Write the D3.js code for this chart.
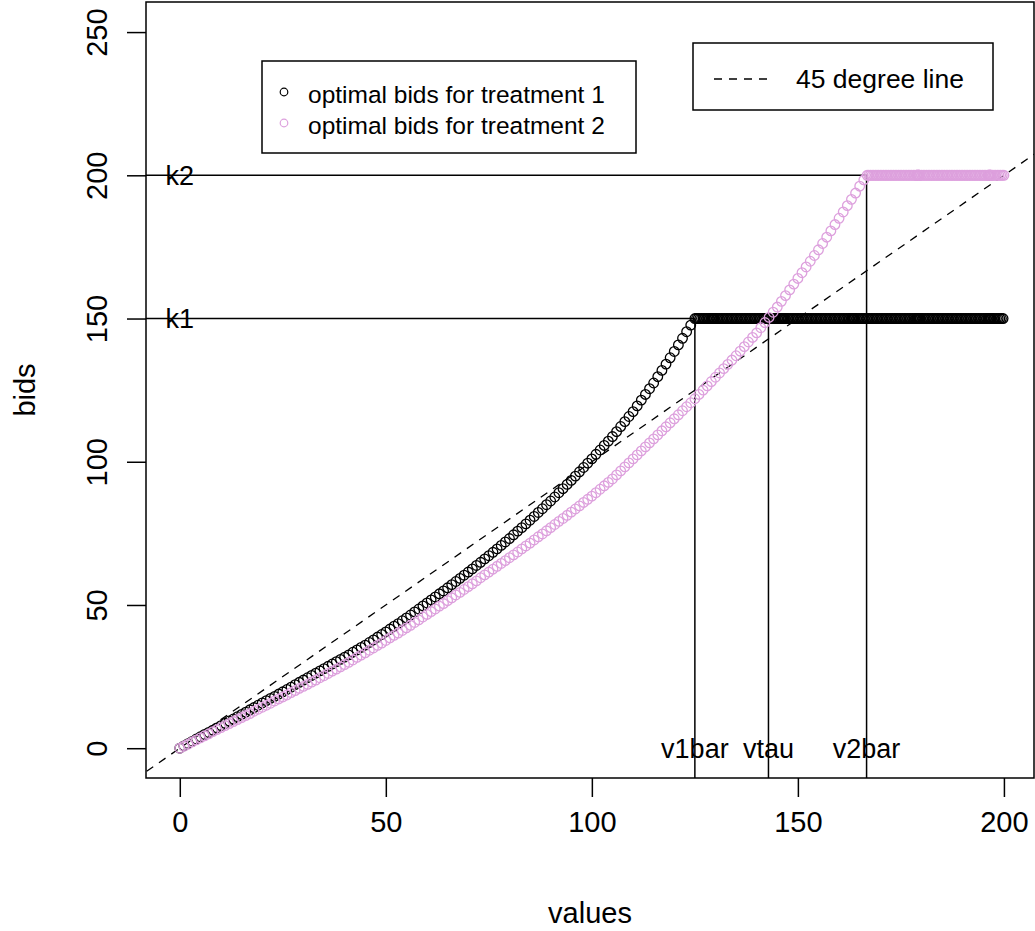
<!DOCTYPE html>
<html><head><meta charset="utf-8">
<script src="https://cdn.jsdelivr.net/npm/d3@7"></script>
<style>body{margin:0;background:#fff}svg{display:block}text{font-family:"Liberation Sans",Arial,sans-serif;fill:#000}</style>
</head><body><svg id="c" width="1035" height="931"></svg>
<script>
// ---- data ----
// treatment 1: rising part (values 0..124) and capped part at k1
const values1 = d3.range(0, 125, 1);
const bids1 = [
0,0.8,1.6,2.4,3.2,4.0,4.8,5.5,6.3,7.1,7.9,8.7,9.5,10.2,11.0,11.8,12.6,13.4,14.2,15.0,15.8,
16.6,17.4,18.1,18.9,19.7,20.5,21.3,22.2,23.0,23.8,24.6,25.4,26.2,27.0,27.8,28.6,29.4,30.2,31.0,31.8,
32.6,33.5,34.3,35.2,36.0,36.9,37.8,38.8,39.7,40.6,41.6,42.6,43.5,44.5,45.5,46.5,47.6,48.6,49.7,50.7,
51.8,52.8,53.9,54.9,56.0,57.1,58.2,59.3,60.4,61.5,62.6,63.8,64.9,66.1,67.2,68.4,69.6,70.8,72.0,73.2,
74.5,75.8,77.0,78.3,79.6,80.9,82.3,83.6,85.0,86.3,87.7,89.2,90.6,92.1,93.5,95.0,96.5,98.0,99.5,101.0,
102.6,104.1,105.7,107.2,108.8,110.5,112.3,114.0,115.8,117.5,119.5,121.5,123.5,125.5,127.5,129.7,131.9,134.1,136.3,138.5,
140.8,143.1,145.4,147.7];
const cappedValues1 = d3.range(125, 200.01, 0.4).concat(
  [129.0,129.1,129.2,129.3,129.4,129.5,129.6,129.7,
   146.0,146.1,146.2,146.3,146.4,146.5,146.6,146.7,
   163.0,163.1,163.2,163.3,163.4,163.5,163.6,163.7,
   178.8,178.9,179.0,179.1,179.2,179.3,179.4,179.5,
   196.2,196.3,196.4,196.5,196.6,196.7,196.8,196.9]);
// treatment 2: rising part (values 0..166) and capped part at k2
const values2 = d3.range(0, 167, 1);
const bids2 = [
0,0.7,1.4,2.2,2.9,3.6,4.3,5.0,5.8,6.5,7.2,7.9,8.6,9.3,10.0,10.7,11.4,12.1,12.9,13.6,14.3,
15.0,15.7,16.5,17.2,17.9,18.6,19.4,20.1,20.9,21.6,22.3,23.1,23.8,24.6,25.3,26.1,26.9,27.6,28.4,29.2,
30.0,30.8,31.7,32.5,33.3,34.2,35.0,35.9,36.7,37.6,38.5,39.4,40.2,41.1,42.0,42.9,43.9,44.8,45.8,46.7,
47.7,48.6,49.6,50.5,51.5,52.5,53.5,54.4,55.4,56.4,57.4,58.4,59.5,60.5,61.5,62.5,63.5,64.5,65.5,66.5,
67.5,68.5,69.6,70.6,71.6,72.7,73.8,74.8,75.9,77.0,78.1,79.2,80.2,81.3,82.4,83.5,84.6,85.8,86.9,88.0,
89.2,90.4,91.6,92.8,94.0,95.4,96.8,98.2,99.6,101.0,102.4,103.8,105.2,106.6,108.0,109.4,110.8,112.2,113.6,115.0,
116.4,117.8,119.2,120.6,122.0,123.5,125.0,126.5,128.0,129.5,131.0,132.5,134.0,135.5,137.0,138.6,140.2,141.8,143.4,145.0,
146.8,148.6,150.4,152.2,154.0,156.0,158.0,160.0,162.0,164.0,166.0,168.0,170.0,172.0,174.0,176.2,178.4,180.6,182.8,185.0,
187.2,189.4,191.6,193.8,196.2,198.4];
const cappedValues2 = d3.range(166.8, 200.01, 0.4).concat(
  [178.8,178.9,179.0,179.1,179.2,179.3,179.4,179.5,
   196.2,196.3,196.4,196.5,196.6,196.7,196.8,196.9]);
const xTicks = [0, 50, 100, 150, 200];
const yTicks = [0, 50, 100, 150, 200, 250];
const kLevels = [150, 200];
const kLabels = ["k1", "k2"];
const vMarks = [125, 142.86, 166.67];
const vLabels = ["v1bar", "vtau", "v2bar"];
const vTops = [150, 150, 200];
const legendLabels = ["optimal bids for treatment 1", "optimal bids for treatment 2"];
const colors = ["#000000", "#DDA0DD"];

// ---- layout ----
const svg = d3.select("#c");
const box = {l: 146, r: 1034, t: 2, b: 778};
const x = d3.scaleLinear().domain([-8.2, 207.3]).range([box.l, box.r]);
const y = d3.scaleLinear().domain([-10.4, 260.5]).range([box.b, box.t]);

svg.append("defs").append("clipPath").attr("id", "clip")
  .append("rect").attr("x", box.l).attr("y", box.t).attr("width", box.r - box.l).attr("height", box.b - box.t);

// axes
const xAxis = svg.append("g").attr("transform", `translate(0,${box.b})`)
  .call(d3.axisBottom(x).tickValues(xTicks).tickSize(19).tickPadding(14).tickSizeOuter(0));
const yAxis = svg.append("g").attr("transform", `translate(${box.l},0)`)
  .call(d3.axisLeft(y).tickValues(yTicks).tickSize(19).tickSizeOuter(0));
[xAxis, yAxis].forEach(g => {
  g.select(".domain").remove();
  g.selectAll(".tick line").attr("stroke", "#000").attr("stroke-width", 1.5);
});
xAxis.selectAll(".tick text").attr("font-size", 29).attr("fill", "#000")
  .attr("font-family", "Liberation Sans, Arial, sans-serif");
yAxis.selectAll(".tick text").remove();
yAxis.selectAll(".tick").append("text")
  .attr("transform", "translate(-39,0) rotate(-90)")
  .attr("text-anchor", "middle").attr("font-size", 29).attr("fill", "#000")
  .text(d => d);

// axis titles
svg.append("text").attr("x", (box.l + box.r) / 2).attr("y", 923).attr("text-anchor", "middle")
  .attr("font-size", 29).text("values");
svg.append("text").attr("transform", `translate(35,${(box.t + box.b) / 2}) rotate(-90)`)
  .attr("text-anchor", "middle").attr("font-size", 29).text("bids");

const plot = svg.append("g").attr("clip-path", "url(#clip)");

// reference lines
kLevels.forEach((k, i) => {
  plot.append("line").attr("x1", box.l).attr("x2", x(vMarks[i === 0 ? 0 : 2])).attr("y1", y(k)).attr("y2", y(k))
    .attr("stroke", "#000").attr("stroke-width", 1.5);
});
vMarks.forEach((v, i) => {
  plot.append("line").attr("x1", x(v)).attr("x2", x(v)).attr("y1", y(vTops[i])).attr("y2", box.b)
    .attr("stroke", "#000").attr("stroke-width", 1.5);
});
// 45 degree line
plot.append("line").attr("x1", x(-20)).attr("y1", y(-20)).attr("x2", x(270)).attr("y2", y(270))
  .attr("stroke", "#000").attr("stroke-width", 1.3).attr("stroke-dasharray", "8,7");

// points
const series = [
  {pts: values1.map((v, i) => [v, bids1[i]]).concat(cappedValues1.map(v => [v, kLevels[0]])), c: colors[0]},
  {pts: values2.map((v, i) => [v, bids2[i]]).concat(cappedValues2.map(v => [v, kLevels[1]])), c: colors[1]}
];
series.forEach(s => {
  plot.append("g").selectAll("circle").data(s.pts).join("circle")
    .attr("cx", d => x(d[0])).attr("cy", d => y(d[1])).attr("r", 4.8)
    .attr("fill", "none").attr("stroke", s.c).attr("stroke-width", 1.3);
});

// text labels
kLabels.forEach((t, i) => {
  svg.append("text").attr("x", x(0)).attr("y", y(kLevels[i])).attr("dy", "0.35em")
    .attr("text-anchor", "middle").attr("font-size", 27).text(t);
});
vLabels.forEach((t, i) => {
  svg.append("text").attr("x", x(vMarks[i])).attr("y", y(0)).attr("dy", "0.35em")
    .attr("text-anchor", "middle").attr("font-size", 27).text(t);
});

// legend 1
const lg1 = svg.append("g");
lg1.append("rect").attr("x", 262).attr("y", 61).attr("width", 374).attr("height", 92)
  .attr("fill", "#fff").attr("stroke", "#000").attr("stroke-width", 1.5);
legendLabels.forEach((t, i) => {
  lg1.append("circle").attr("cx", 284).attr("cy", 92 + i * 31).attr("r", 3.8)
    .attr("fill", "none").attr("stroke", colors[i]).attr("stroke-width", 1.2);
  lg1.append("text").attr("x", 308).attr("y", 94 + i * 31).attr("dy", "0.35em")
    .attr("font-size", 24.5).text(t);
});
// legend 2
const lg2 = svg.append("g");
lg2.append("rect").attr("x", 693).attr("y", 43).attr("width", 300).attr("height", 67)
  .attr("fill", "#fff").attr("stroke", "#000").attr("stroke-width", 1.5);
lg2.append("line").attr("x1", 714).attr("x2", 771).attr("y1", 79).attr("y2", 79)
  .attr("stroke", "#000").attr("stroke-width", 1.3).attr("stroke-dasharray", "8,7");
lg2.append("text").attr("x", 796).attr("y", 79).attr("dy", "0.35em").attr("font-size", 26.5).text("45 degree line");

// frame
svg.append("rect").attr("x", box.l).attr("y", box.t).attr("width", box.r - box.l).attr("height", box.b - box.t)
  .attr("fill", "none").attr("stroke", "#000").attr("stroke-width", 1.5);
</script></body></html>
